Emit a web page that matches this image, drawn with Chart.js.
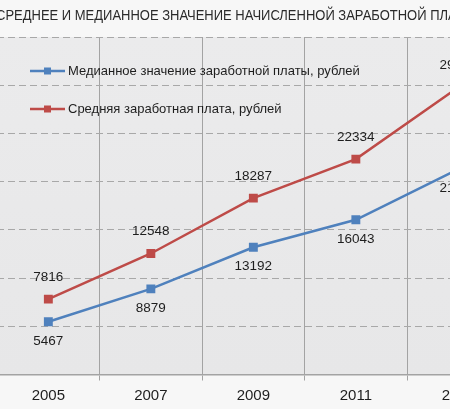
<!DOCTYPE html>
<html><head><meta charset="utf-8">
<script src="https://cdn.jsdelivr.net/npm/chart.js@4.4.0/dist/chart.umd.min.js"></script>
<style>
html,body{margin:0;padding:0;overflow:hidden;background:#f7f7f7;width:450px;height:409px;}
#wrap{position:absolute;left:-50px;top:0;width:620px;height:409px;}
</style></head><body>
<div id="wrap"><canvas id="c"></canvas></div>
<script>
const categories = ['2005', '2007', '2009', '2011', '2013'];
const medianValues = [5467, 8879, 13192, 16043, 21300];
const averageValues = [7816, 12548, 18287, 22334, 29792];
const yMin = 0, yMax = 35000, yStep = 5000;
const titleText = 'СРЕДНЕЕ И МЕДИАННОЕ ЗНАЧЕНИЕ НАЧИСЛЕННОЙ ЗАРАБОТНОЙ ПЛАТЫ';
const seriesNames = ['Медианное значение заработной платы, рублей', 'Средняя заработная плата, рублей'];

const BLUE = '#4f81bd', RED = '#be4b48';
const OFFSET = 50; // canvas shifted left by this much

const bgPlugin = {
  id: 'bg',
  beforeDraw(chart) {
    const {ctx, chartArea: a} = chart;
    ctx.save();
    ctx.fillStyle = '#f7f7f7';
    ctx.fillRect(0, 0, chart.width, chart.height);
    const g = ctx.createLinearGradient(0, a.top, 0, a.bottom);
    g.addColorStop(0, '#ebebec');
    g.addColorStop(1, '#e7e7e8');
    ctx.fillStyle = g;
    ctx.fillRect(a.left, a.top, a.right - a.left, a.bottom - a.top);
    ctx.restore();
  }
};

const titlePlugin = {
  id: 'ttl',
  afterDraw(chart) {
    const ctx = chart.ctx;
    ctx.save();
    ctx.font = '14px "Liberation Sans", Arial, sans-serif';
    ctx.fillStyle = '#2a2a2a';
    ctx.textBaseline = 'middle';
    const prefix = 'СРЕДНЕЕ И МЕДИАННОЕ ЗНАЧЕНИЕ НАЧИСЛЕННОЙ ЗАРАБОТНОЙ ПЛ';
    const w = ctx.measureText(prefix).width;
    const sx = 452 / w;
    ctx.translate(OFFSET - 4, 16);
    ctx.scale(sx, 1);
    ctx.fillText(titleText, 0, 0);
    ctx.restore();
  }
};

const legendPlugin = {
  id: 'lg',
  afterDraw(chart) {
    const ctx = chart.ctx;
    ctx.save();
    const rows = [71, 109];
    chart.data.datasets.forEach((ds, i) => {
      const y = rows[i];
      ctx.strokeStyle = ds.borderColor;
      ctx.lineWidth = 2.5;
      ctx.beginPath();
      ctx.moveTo(OFFSET + 30, y);
      ctx.lineTo(OFFSET + 65, y);
      ctx.stroke();
      ctx.fillStyle = ds.borderColor;
      ctx.fillRect(OFFSET + 47.5 - 3.5, y - 3.5, 7, 7);
      ctx.fillStyle = '#1e1e1e';
      ctx.font = '13px "Liberation Sans", Arial, sans-serif';
      ctx.textBaseline = 'middle';
      ctx.fillText(ds.label, OFFSET + 68, y);
    });
    ctx.restore();
  }
};

const labelPlugin = {
  id: 'dl',
  afterDatasetsDraw(chart) {
    const ctx = chart.ctx;
    ctx.save();
    ctx.font = '13.5px "Liberation Sans", Arial, sans-serif';
    ctx.fillStyle = '#1e1e1e';
    ctx.textAlign = 'center';
    ctx.textBaseline = 'middle';
    chart.data.datasets.forEach((ds, i) => {
      const meta = chart.getDatasetMeta(i);
      const dy = i === 0 ? 19 : -22;
      meta.data.forEach((pt, j) => {
        ctx.fillText(String(ds.data[j]), pt.x, pt.y + dy);
      });
    });
    ctx.restore();
  }
};

new Chart(document.getElementById('c'), {
  type: 'line',
  data: {
    labels: categories,
    datasets: [
      {label: seriesNames[0], data: medianValues, borderColor: BLUE, backgroundColor: BLUE,
       borderWidth: 2.5, pointStyle: 'rect', pointRadius: 6.3, pointBorderWidth: 0, tension: 0},
      {label: seriesNames[1], data: averageValues, borderColor: RED, backgroundColor: RED,
       borderWidth: 2.5, pointStyle: 'rect', pointRadius: 6.3, pointBorderWidth: 0, tension: 0}
    ]
  },
  options: {
    responsive: true,
    maintainAspectRatio: false,
    animation: false,
    layout: {padding: {left: 47.1, right: 60.4, top: 37, bottom: 0}},
    plugins: {legend: {display: false}, title: {display: false}, tooltip: {enabled: false}},
    scales: {
      x: {
        offset: true,
        grid: {display: true, offset: true, color: '#a3a3a3', lineWidth: 1, tickLength: 6, tickColor: '#a3a3a3'},
        border: {display: true, color: '#a3a3a3', width: 1.5},
        ticks: {color: '#1e1e1e', font: {family: '"Liberation Sans", Arial, sans-serif', size: 15}, padding: 6, maxRotation: 0},
        afterFit(scale) { scale.height = 34.5; }
      },
      y: {
        min: yMin, max: yMax,
        ticks: {display: false, stepSize: yStep},
        grid: {color: '#a8a8a8', lineWidth: 1, drawTicks: false},
        border: {display: false, dash: [7, 4]},
        afterFit(scale) { scale.width = 0; }
      }
    }
  },
  plugins: [bgPlugin, titlePlugin, legendPlugin, labelPlugin]
});
</script>
</body></html>
